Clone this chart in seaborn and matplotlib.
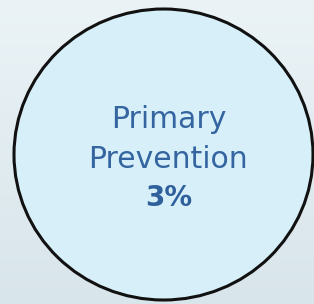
import matplotlib
matplotlib.use("Agg")
import matplotlib.pyplot as plt
import numpy as np
import seaborn as sns
from matplotlib.patches import Ellipse

categories = ["Primary Prevention"]
values = [3]
label_lines = ["Primary", "Prevention"]

sns.set_theme(style="white")
plt.rcParams['font.family'] = ['DejaVu Sans']

W, H = 314, 304
fig = plt.figure(figsize=(W / 100, H / 100), dpi=100)
ax = fig.add_axes([0, 0, 1, 1])
ax.set_xlim(0, W)
ax.set_ylim(H, 0)
ax.axis("off")

# background gradient
top = np.array([0xEB, 0xF3, 0xF6]) / 255
bot = np.array([0xD8, 0xE5, 0xEB]) / 255
t = np.linspace(0, 1, 200)[:, None]
grad = (top * (1 - t) + bot * t)[:, None, :]
ax.imshow(grad, extent=[0, W, H, 0], aspect="auto", zorder=0)

# bubble
ell = Ellipse((163.5, 154.5), 299, 291, facecolor="#d6eff9", edgecolor="#111111",
              linewidth=2.2, zorder=2)
ax.add_patch(ell)

txtc = "#3465a0"
fs = 21.5
ax.text(168.5, 128, label_lines[0], ha="center", va="baseline", fontsize=fs, color=txtc, zorder=3)
ax.text(168, 168, label_lines[1], ha="center", va="baseline", fontsize=fs, color=txtc, zorder=3)
ax.text(168.5, 206, f"{values[0]}%", ha="center", va="baseline", fontsize=20,
        fontweight="bold", color="#2f609c", zorder=3)

fig.savefig("out.png", dpi=100)
